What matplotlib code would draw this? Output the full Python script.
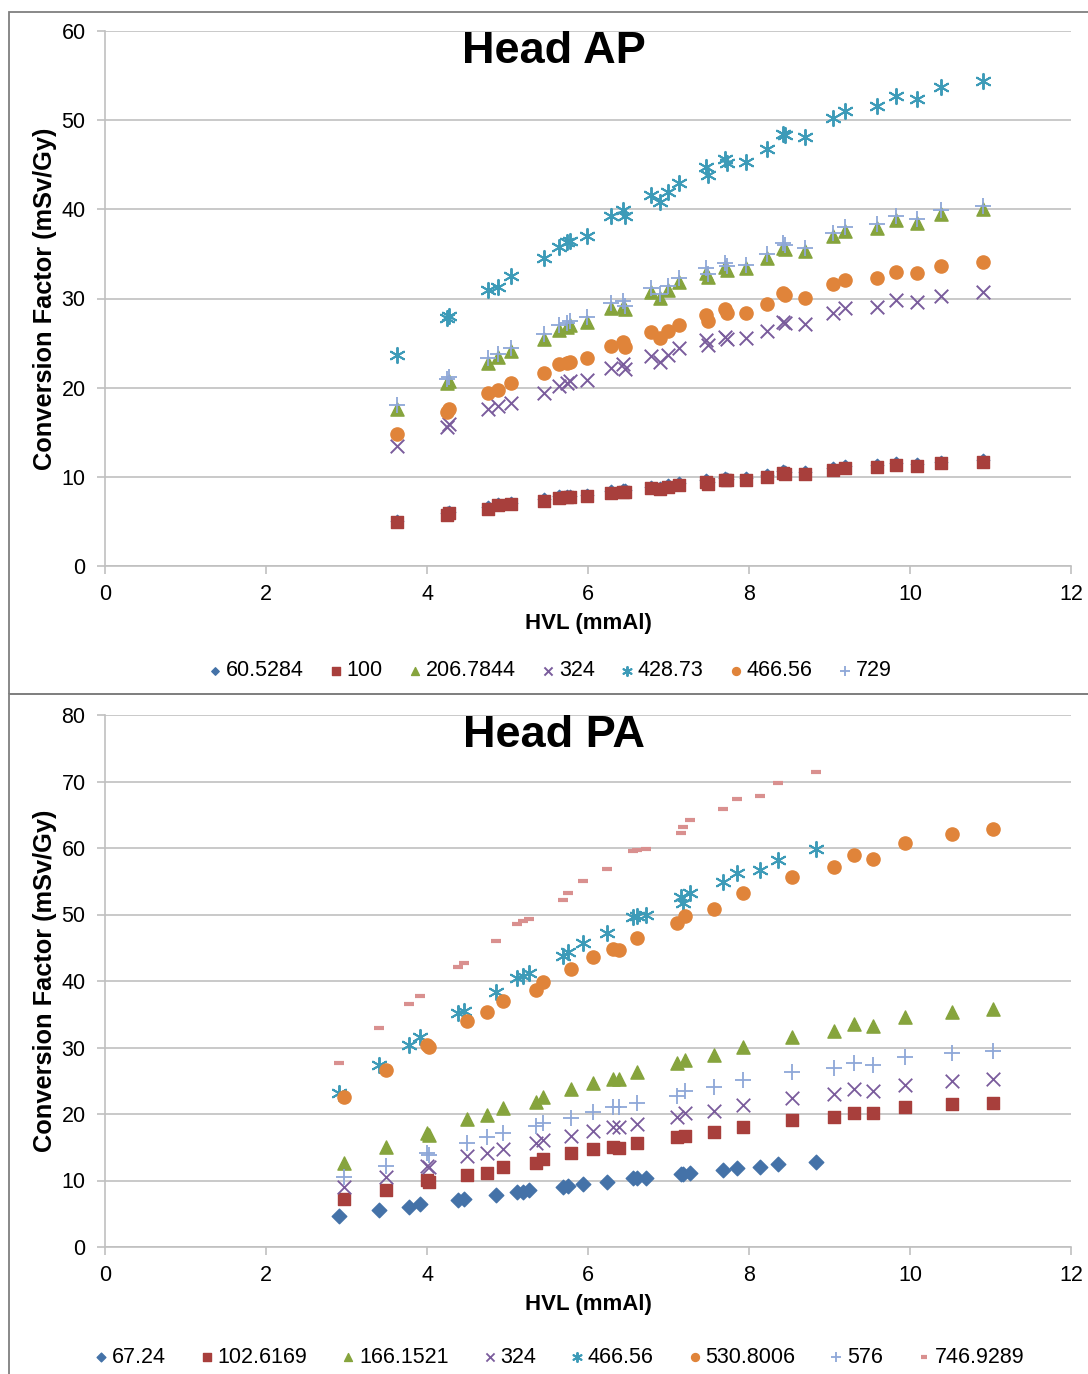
import matplotlib
matplotlib.use("Agg")
import matplotlib.pyplot as plt
from matplotlib.patches import Rectangle

plt.rcParams['font.family'] = ['Liberation Sans', 'DejaVu Sans']

# ---------------- Head AP data ----------------
hvl_ap = [3.63, 4.25, 4.27, 4.76, 4.88, 5.04, 5.45, 5.64, 5.74, 5.78, 5.99, 6.29,
          6.43, 6.46, 6.78, 6.89, 6.99, 7.13, 7.47, 7.49, 7.70, 7.73, 7.96, 8.22,
          8.42, 8.45, 8.70, 9.04, 9.19, 9.59, 9.83, 10.09, 10.39, 10.91]
ap_60 = [5.1, 5.9, 6.1, 6.6, 7.0, 7.1, 7.5, 7.8, 7.9, 7.9, 8.0, 8.4, 8.5, 8.5,
         8.9, 8.8, 9.1, 9.3, 9.6, 9.4, 9.9, 9.8, 9.9, 10.2, 10.6, 10.5, 10.5,
         11.0, 11.2, 11.3, 11.5, 11.4, 11.7, 11.9]
ap_100 = [4.9, 5.7, 5.9, 6.4, 6.8, 6.9, 7.3, 7.6, 7.7, 7.7, 7.8, 8.2, 8.3, 8.3,
          8.7, 8.6, 8.9, 9.1, 9.4, 9.2, 9.7, 9.6, 9.7, 10.0, 10.4, 10.3, 10.3,
          10.8, 11.0, 11.1, 11.3, 11.2, 11.5, 11.7]
ap_206 = [17.6, 20.5, 20.8, 22.8, 23.4, 24.1, 25.5, 26.5, 26.8, 27.0, 27.4, 28.9,
          29.0, 28.8, 30.7, 30.1, 30.9, 31.8, 32.9, 32.4, 33.5, 33.2, 33.4, 34.5,
          35.7, 35.6, 35.3, 37.0, 37.6, 37.9, 38.8, 38.5, 39.5, 40.0]
ap_324 = [13.5, 15.6, 15.9, 17.6, 17.9, 18.3, 19.4, 20.2, 20.5, 20.7, 20.9, 22.2,
          22.6, 22.1, 23.5, 22.9, 23.7, 24.4, 25.3, 24.8, 25.7, 25.5, 25.6, 26.4,
          27.4, 27.2, 27.1, 28.4, 28.9, 29.1, 29.8, 29.6, 30.3, 30.7]
ap_428 = [23.7, 27.8, 28.0, 30.9, 31.3, 32.5, 34.5, 35.8, 36.3, 36.5, 37.0, 39.2,
          39.9, 39.2, 41.6, 40.8, 42.0, 42.9, 44.7, 43.8, 45.7, 45.2, 45.3, 46.8,
          48.5, 48.3, 48.1, 50.2, 51.0, 51.6, 52.7, 52.4, 53.7, 54.4]
ap_466 = [14.8, 17.3, 17.6, 19.4, 19.7, 20.5, 21.7, 22.6, 22.8, 22.9, 23.3, 24.7,
          25.1, 24.6, 26.2, 25.6, 26.4, 27.0, 28.2, 27.5, 28.8, 28.4, 28.4, 29.4,
          30.6, 30.4, 30.1, 31.6, 32.1, 32.3, 33.0, 32.9, 33.7, 34.1]
ap_729 = [18.1, 21.0, 21.2, 23.3, 23.8, 24.5, 26.0, 27.0, 27.3, 27.5, 27.9, 29.5,
          29.7, 29.2, 31.2, 30.5, 31.4, 32.3, 33.4, 32.8, 34.0, 33.6, 33.8, 35.0,
          36.2, 36.0, 35.7, 37.4, 38.0, 38.3, 39.2, 38.9, 39.9, 40.4]

# ---------------- Head PA data ----------------
hvl_pa_a = [2.91, 3.40, 3.78, 3.91, 4.38, 4.46, 4.86, 5.12, 5.19, 5.27, 5.69, 5.75,
            5.94, 6.24, 6.56, 6.61, 6.72, 7.15, 7.18, 7.27, 7.68, 7.85, 8.14, 8.36, 8.83]
pa_67 = [4.7, 5.6, 6.0, 6.5, 7.1, 7.2, 7.8, 8.3, 8.3, 8.6, 9.0, 9.1, 9.5, 9.8,
         10.4, 10.4, 10.4, 11.0, 11.0, 11.1, 11.6, 11.9, 12.0, 12.5, 12.8]
pa_466 = [23.2, 27.4, 30.4, 31.6, 35.2, 35.5, 38.4, 40.4, 40.7, 41.2, 43.7, 44.4,
          45.7, 47.2, 49.6, 49.8, 49.9, 52.6, 51.7, 53.3, 54.9, 56.2, 56.7, 58.2, 59.8]
pa_746 = [27.7, 32.9, 36.5, 37.7, 42.1, 42.7, 46.0, 48.6, 49.0, 49.3, 52.2, 53.2,
          55.0, 56.8, 59.6, 59.7, 59.8, 62.2, 63.1, 64.2, 65.9, 67.4, 67.8, 69.8, 71.4]

hvl_pa_b = [2.97, 3.49, 4.00, 4.02, 4.50, 4.75, 4.95, 5.35, 5.44, 5.79, 6.06, 6.31,
            6.39, 6.61, 7.10, 7.21, 7.57, 7.93, 8.53, 9.06, 9.30, 9.54, 9.94, 10.52, 11.03]
pa_102 = [7.2, 8.6, 10.1, 9.7, 10.9, 11.2, 12.0, 12.7, 13.3, 14.1, 14.7, 15.0,
          14.9, 15.7, 16.6, 16.7, 17.3, 18.0, 19.1, 19.6, 20.2, 20.1, 21.0, 21.5, 21.7]
pa_166 = [12.6, 15.0, 17.2, 16.9, 19.2, 19.9, 20.9, 21.8, 22.5, 23.7, 24.7, 25.2,
          25.2, 26.3, 27.6, 28.1, 28.9, 30.1, 31.6, 32.5, 33.5, 33.2, 34.6, 35.3, 35.8]
pa_324 = [9.0, 10.6, 12.2, 12.0, 13.7, 14.2, 14.7, 15.7, 16.1, 16.7, 17.5, 18.1,
          18.1, 18.5, 19.5, 20.1, 20.5, 21.4, 22.4, 23.0, 23.7, 23.5, 24.4, 24.9, 25.2]
pa_530 = [22.6, 26.6, 30.4, 30.1, 34.0, 35.3, 37.0, 38.6, 39.8, 41.8, 43.6, 44.8,
          44.7, 46.5, 48.7, 49.8, 50.9, 53.2, 55.7, 57.1, 58.9, 58.4, 60.7, 62.1, 62.9]
pa_576 = [10.5, 12.2, 14.1, 13.9, 15.6, 16.5, 17.1, 18.2, 18.7, 19.4, 20.3, 21.1,
          21.1, 21.7, 22.7, 23.5, 24.0, 25.1, 26.3, 26.9, 27.7, 27.4, 28.6, 29.2, 29.5]

# Excel-like series styles
BLUE = '#4472a8'
RED = '#a83f3c'
GREEN = '#86a43d'
PURPLE = '#7a5c9c'
TEAL = '#3d9bb8'
ORANGE = '#e0843a'
LBLUE = '#8ea7d8'
PINK = '#d9908f'


def style_axes(ax, ymax, title):
    ax.set_xlim(0, 12)
    ax.set_ylim(0, ymax)
    ax.set_xticks(range(0, 13, 2))
    ax.set_yticks(range(0, ymax + 1, 10))
    ax.yaxis.grid(True, color='#c0c0c0', linewidth=1.2)
    ax.set_axisbelow(True)
    for s in ['top', 'right']:
        ax.spines[s].set_visible(False)
    for s in ['left', 'bottom']:
        ax.spines[s].set_color('#c0c0c0')
        ax.spines[s].set_linewidth(1.2)
    ax.tick_params(axis='both', colors='#c0c0c0', labelcolor='black',
                   labelsize=15.5, length=6, width=1.2, direction='out')
    ax.tick_params(axis='y', pad=8)
    ax.tick_params(axis='x', pad=7)
    ax.set_xlabel('HVL (mmAl)', fontsize=16, fontweight='bold', labelpad=6)
    ax.set_ylabel('Conversion Factor (mSv/Gy)', fontsize=18.3, fontweight='bold', labelpad=3)
    ax.text(0.465, 0.962, title, transform=ax.transAxes, ha='center', va='center',
            fontsize=32.5, fontweight='bold')


def add_legend(ax, ncol, xc, yc, spacing):
    ax.legend(loc='upper center', bbox_to_anchor=(xc, yc), ncol=ncol, frameon=False,
              fontsize=15.5, handlelength=0.7, handletextpad=0.15, columnspacing=spacing,
              markerscale=0.6, borderaxespad=0)


fig = plt.figure(figsize=(10.88, 13.74), dpi=100)

# chart borders
fig.patches.append(Rectangle((9 / 1088, 1 - 694 / 1374), 1.2, 682 / 1374,
                             transform=fig.transFigure, fill=False,
                             edgecolor='#7f7f7f', linewidth=1.3))
fig.patches.append(Rectangle((9 / 1088, -0.01), 1.2, 1 - 694 / 1374 + 0.01,
                             transform=fig.transFigure, fill=False,
                             edgecolor='#7f7f7f', linewidth=1.3))

# ---------------- Head AP ----------------
ax1 = fig.add_axes([105 / 1088, 1 - 566 / 1374, 966 / 1088, 535 / 1374])
ax1.scatter(hvl_ap, ap_60, marker='D', s=40, color=BLUE, label='60.5284', zorder=3)
ax1.scatter(hvl_ap, ap_100, marker='s', s=80, color=RED, label='100', zorder=3)
ax1.scatter(hvl_ap, ap_206, marker='^', s=90, color=GREEN, label='206.7844', zorder=3)
ax1.scatter(hvl_ap, ap_324, marker='x', s=95, color=PURPLE, linewidths=1.4, label='324', zorder=3)
ax1.scatter(hvl_ap, ap_428, marker=(6, 2, 0), s=120, color=TEAL, linewidths=1.4, label='428.73', zorder=3)
ax1.scatter(hvl_ap, ap_466, marker='o', s=90, color=ORANGE, label='466.56', zorder=3)
ax1.scatter(hvl_ap, ap_729, marker='+', s=140, color=LBLUE, linewidths=1.3, label='729', zorder=3)
style_axes(ax1, 60, 'Head AP')
add_legend(ax1, 7, 0.46, -0.16, 1.15)

# ---------------- Head PA ----------------
ax2 = fig.add_axes([105 / 1088, 1 - 1247 / 1374, 966 / 1088, 532 / 1374])
ax2.scatter(hvl_pa_a, pa_67, marker='D', s=55, color=BLUE, label='67.24', zorder=3)
ax2.scatter(hvl_pa_b, pa_102, marker='s', s=80, color=RED, label='102.6169', zorder=3)
ax2.scatter(hvl_pa_b, pa_166, marker='^', s=90, color=GREEN, label='166.1521', zorder=3)
ax2.scatter(hvl_pa_b, pa_324, marker='x', s=95, color=PURPLE, linewidths=1.3, label='324', zorder=3)
ax2.scatter(hvl_pa_a, pa_466, marker=(6, 2, 0), s=120, color=TEAL, linewidths=1.4, label='466.56', zorder=3)
ax2.scatter(hvl_pa_b, pa_530, marker='o', s=90, color=ORANGE, label='530.8006', zorder=3)
ax2.scatter(hvl_pa_b, pa_576, marker='+', s=140, color=LBLUE, linewidths=1.3, label='576', zorder=3)
ax2.scatter(hvl_pa_a, pa_746, marker='_', s=60, color=PINK, linewidths=3, label='746.9289', zorder=3)
style_axes(ax2, 80, 'Head PA')
add_legend(ax2, 8, 0.47, -0.172, 1.55)

plt.savefig('out.png', dpi=100)
plt.close()
